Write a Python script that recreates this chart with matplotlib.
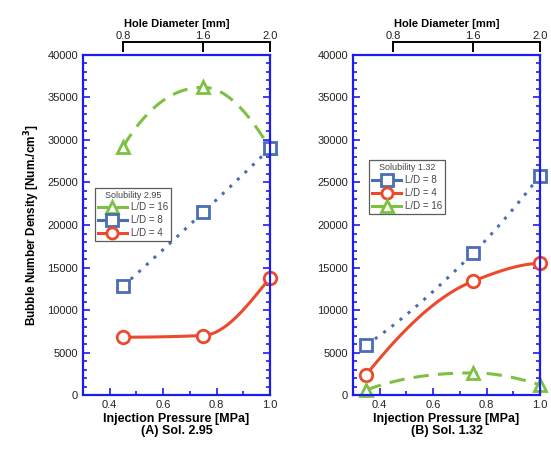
import numpy as np
import matplotlib
matplotlib.use("Agg")
import matplotlib.pyplot as plt
from matplotlib.lines import Line2D
from matplotlib.ticker import MultipleLocator

plt.rcParams['font.family'] = ['Liberation Sans', 'DejaVu Sans']

# Panel A: solubility 2.95
press_a = [0.45, 0.75, 1.0]
ld16_a = [29200, 36200, 29000]
ld8_a = [12800, 21500, 29000]
ld4_a = [6800, 7000, 13800]

# Panel B: solubility 1.32
press_b = [0.35, 0.75, 1.0]
ld8_b = [5900, 16700, 25800]
ld4_b = [2400, 13400, 15500]
ld16_b = [600, 2600, 1200]

# top axis (hole diameter)
hole_pos = [0.45, 0.75, 1.0]
hole_labels = ['0.8', '1.6', '2.0']

GREEN = '#7cc142'
BLUE = '#4b6db3'
RED = '#ec4a2c'
SPINE = '#1c1cf0'

styles = {
    'L/D = 16': dict(color=GREEN, marker='^', dashes=(5, 3)),
    'L/D = 8': dict(color=BLUE, marker='s', dashes=(1.0, 2.4)),
    'L/D = 4': dict(color=RED, marker='o', dashes=None),
}


def pchip(x, y, xs):
    # monotone cubic (Fritsch-Carlson) so the curve does not overshoot
    x = np.asarray(x, float)
    y = np.asarray(y, float)
    h = np.diff(x)
    d = np.diff(y) / h
    m = np.zeros_like(y)
    for k in range(1, len(x) - 1):
        if d[k - 1] * d[k] > 0:
            w1 = 2 * h[k] + h[k - 1]
            w2 = h[k] + 2 * h[k - 1]
            m[k] = (w1 + w2) / (w1 / d[k - 1] + w2 / d[k])
    m[0] = ((2 * h[0] + h[1]) * d[0] - h[0] * d[1]) / (h[0] + h[1])
    if np.sign(m[0]) != np.sign(d[0]):
        m[0] = 0
    m[-1] = ((2 * h[-1] + h[-2]) * d[-1] - h[-1] * d[-2]) / (h[-1] + h[-2])
    if np.sign(m[-1]) != np.sign(d[-1]):
        m[-1] = 0
    i = np.clip(np.searchsorted(x, xs) - 1, 0, len(x) - 2)
    t = (xs - x[i]) / h[i]
    h00 = 2 * t**3 - 3 * t**2 + 1
    h10 = t**3 - 2 * t**2 + t
    h01 = -2 * t**3 + 3 * t**2
    h11 = t**3 - t**2
    return h00 * y[i] + h10 * h[i] * m[i] + h01 * y[i + 1] + h11 * h[i] * m[i + 1]


def curve(ax, x, y, name):
    st = styles[name]
    xs = np.linspace(min(x), max(x), 120)
    line, = ax.plot(xs, pchip(x, y, xs), color=st['color'], lw=2.2)
    if st['dashes']:
        line.set_dashes(st['dashes'])
    ax.plot(x, y, ls='none', marker=st['marker'], ms=9, mfc='white',
            mec=st['color'], mew=2)


def setup(ax, label):
    ax.set_xlim(0.3, 1.0)
    ax.set_ylim(0, 40000)
    ax.set_xticks([0.4, 0.6, 0.8, 1.0])
    ax.xaxis.set_minor_locator(MultipleLocator(0.1))
    ax.yaxis.set_major_locator(MultipleLocator(5000))
    ax.yaxis.set_minor_locator(MultipleLocator(1000))
    ax.set_xticklabels(['0.4', '0.6', '0.8', '1.0'])
    ax.tick_params(which='both', direction='in', top=True, right=True,
                   color=SPINE, labelsize=8, labelcolor='#222222', width=1.2)
    ax.tick_params(which='major', length=5)
    ax.tick_params(which='minor', length=3)
    for s in ax.spines.values():
        s.set_color(SPINE)
        s.set_linewidth(1.6)
    ax.set_xlabel('Injection Pressure [MPa]\n' + label, fontsize=9,
                  fontweight='bold', linespacing=1.0, labelpad=2)

    top = ax.twiny()
    top.set_xlim(ax.get_xlim())
    for k in ['left', 'right', 'bottom']:
        top.spines[k].set_visible(False)
    top.spines['top'].set_position(('outward', 9))
    top.spines['top'].set_bounds(hole_pos[0], hole_pos[-1])
    top.spines['top'].set_linewidth(1.4)
    top.set_xticks(hole_pos)
    top.set_xticklabels(hole_labels)
    top.tick_params(direction='in', length=7, width=1.4, labelsize=8,
                    labelcolor='#222222', pad=1)
    top.set_xlabel('Hole Diameter [mm]', fontsize=8, fontweight='bold',
                   labelpad=3)


def legend(ax, names, title, anchor):
    handles = []
    for n in names:
        st = styles[n]
        handles.append(Line2D([], [], color=st['color'], lw=2.2, marker=st['marker'],
                              ms=8, mfc='white', mec=st['color'], mew=2))
    lg = ax.legend(handles, names, title=title, loc='upper left',
                   bbox_to_anchor=anchor, fontsize=7, title_fontsize=6.5,
                   frameon=True, fancybox=False, edgecolor='#333333',
                   handlelength=3.0, borderpad=0.3, labelspacing=0.3,
                   handletextpad=0.4, borderaxespad=0)
    lg.get_frame().set_linewidth(0.9)
    for t in lg.get_texts():
        t.set_color('#444444')
    lg.get_title().set_color('#444444')


fig = plt.figure(figsize=(5.51, 4.5), dpi=100)
ax1 = fig.add_axes([0.1506, 0.1222, 0.3394, 0.7556])
ax2 = fig.add_axes([0.6407, 0.1222, 0.3394, 0.7556])

curve(ax1, press_a, ld16_a, 'L/D = 16')
curve(ax1, press_a, ld8_a, 'L/D = 8')
curve(ax1, press_a, ld4_a, 'L/D = 4')
setup(ax1, '(A) Sol. 2.95')
ax1.set_ylabel('Bubble Number Density [Num./cm$^\\mathbf{3}$]', fontsize=8.5,
               fontweight='bold', labelpad=4)
legend(ax1, ['L/D = 16', 'L/D = 8', 'L/D = 4'], 'Solubility 2.95', (0.064, 0.61))

curve(ax2, press_b, ld8_b, 'L/D = 8')
curve(ax2, press_b, ld4_b, 'L/D = 4')
curve(ax2, press_b, ld16_b, 'L/D = 16')
setup(ax2, '(B) Sol. 1.32')
legend(ax2, ['L/D = 8', 'L/D = 4', 'L/D = 16'], 'Solubility 1.32', (0.086, 0.69))

for ax in (ax1, ax2):
    for line in ax.lines:
        line.set_clip_on(False)

fig.savefig('out.png', dpi=100)
